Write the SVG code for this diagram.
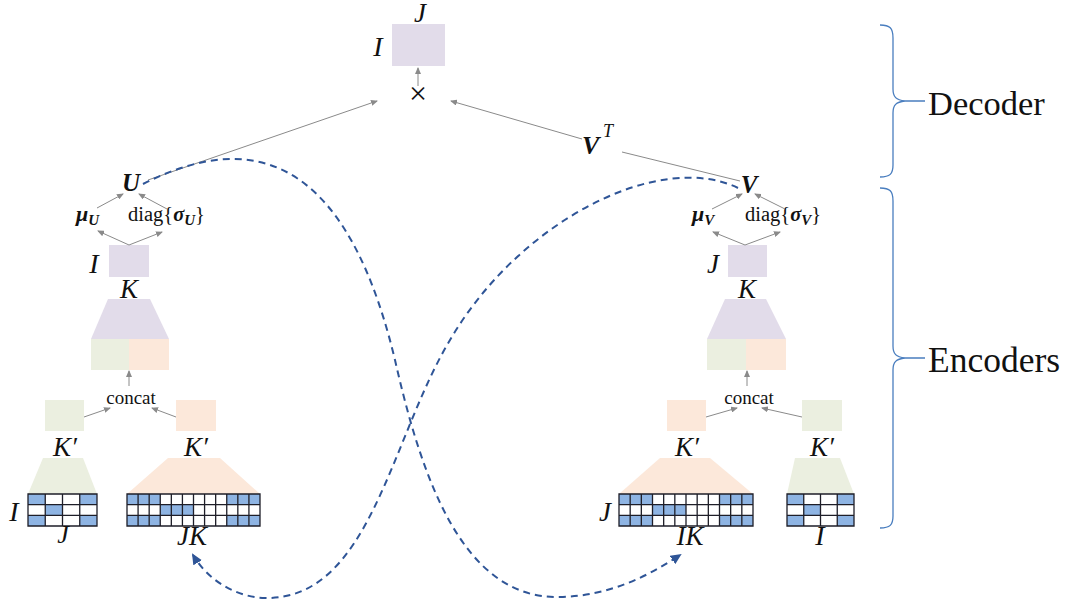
<svg xmlns="http://www.w3.org/2000/svg" width="1070" height="605" viewBox="0 0 1070 605">
  <style>
    .m { font-family: "Liberation Serif", "Times New Roman", serif; font-style: italic; fill: #111; }
    .mb { font-family: "Liberation Serif", "Times New Roman", serif; font-style: italic; font-weight: bold; fill: #111; }
    .rm { font-family: "Liberation Serif", "Times New Roman", serif; fill: #111; }
    .purple { fill: #e2dcea; }
    .green { fill: #ebefe0; }
    .peach { fill: #fce8da; }
    .cellw { fill: #ffffff; }
    .cellb { fill: #8eb4e3; }
    .gridln { fill: none; stroke: #1e1e28; stroke-width: 1.3; }
    .edge { fill: none; stroke: #8a8a8a; stroke-width: 1; marker-end: url(#ah); }
    .plain { fill: none; stroke: #8a8a8a; stroke-width: 1; }
    .dash { fill: none; stroke: #2f5597; stroke-width: 2; stroke-dasharray: 7 5; marker-end: url(#bh); }
    .brace { fill: none; stroke: #4a7ebf; stroke-width: 1.3; }
  </style>
  <defs>
    <marker id="ah" markerUnits="userSpaceOnUse" markerWidth="7" markerHeight="6" refX="6" refY="3" orient="auto">
      <path d="M0,0 L7,3 L0,6 z" fill="#8a8a8a"/>
    </marker>
    <marker id="bh" markerUnits="userSpaceOnUse" markerWidth="11" markerHeight="10" refX="9" refY="5" orient="auto">
      <path d="M0,0 L11,5 L0,10 z" fill="#2f5597"/>
    </marker>
  </defs>

  <rect width="1070" height="605" fill="#ffffff"/>

  <!-- decoder output -->
  <g id="output">
    <rect class="purple" x="392" y="24" width="53" height="42"/>
    <text class="m" x="420" y="22" font-size="27" text-anchor="middle">J</text>
    <text class="m" x="378" y="56" font-size="28" text-anchor="middle">I</text>
  </g>
  <g id="product">
    <text class="rm" x="418" y="104" font-size="32" text-anchor="middle">×</text>
  </g>
  <g id="vt-label">
    <text class="mb" x="582" y="154" font-size="26">V</text>
    <text class="m" x="603" y="137" font-size="18">T</text>
  </g>

  <!-- left encoder (users) -->
  <g id="u-node">
    <text class="mb" x="131" y="191" font-size="25" text-anchor="middle">U</text>
  </g>
  <g id="mu-u">
    <text class="mb" x="76" y="221" font-size="22">μ<tspan font-size="15" dy="4">U</tspan></text>
  </g>
  <g id="sigma-u">
    <text class="rm" x="128" y="221" font-size="20.5">diag{<tspan class="mb">σ</tspan><tspan class="mb" font-size="15" dy="4">U</tspan><tspan dy="-4">}</tspan></text>
  </g>
  <g id="u-latent">
    <rect class="purple" x="109" y="245" width="40" height="32"/>
    <text class="m" x="94" y="273" font-size="28" text-anchor="middle">I</text>
    <text class="m" x="129" y="298" font-size="27" text-anchor="middle">K</text>
  </g>
  <g id="u-merge">
    <polygon class="purple" points="108,299 150,299 169,339 91,339"/>
    <rect class="green" x="91" y="339" width="38" height="31"/>
    <rect class="peach" x="129" y="339" width="40" height="31"/>
  </g>
  <g id="u-concat">
    <text class="rm" x="131" y="404" font-size="19" text-anchor="middle">concat</text>
  </g>
  <g id="u-branch-a">
    <rect class="green" x="45" y="400" width="39" height="31"/>
    <text class="m" x="65" y="456" font-size="27" text-anchor="middle">K′</text>
    <polygon class="green" points="43,458 83,458 97,494 28,494"/>
    <rect class="cellw" x="28" y="494" width="69" height="32"/>
    <rect class="cellb" x="28" y="494" width="17.25" height="10.67"/>
    <rect class="cellb" x="79.75" y="494" width="17.25" height="10.67"/>
    <rect class="cellb" x="45.25" y="504.67" width="17.25" height="10.67"/>
    <rect class="cellb" x="28" y="515.33" width="17.25" height="10.67"/>
    <rect class="cellb" x="79.75" y="515.33" width="17.25" height="10.67"/>
    <path class="gridln" d="M28,494 H97 V526 H28 Z M45.25,494 V526 M62.5,494 V526 M79.75,494 V526 M28,504.67 H97 M28,515.33 H97"/>
    <text class="m" x="14" y="521" font-size="28" text-anchor="middle">I</text>
    <text class="m" x="63" y="543" font-size="26" text-anchor="middle">J</text>
  </g>
  <g id="u-branch-b">
    <rect class="peach" x="176" y="400" width="40" height="31"/>
    <text class="m" x="196" y="456" font-size="27" text-anchor="middle">K′</text>
    <polygon class="peach" points="168,458 220,458 260,494 127,494"/>
    <rect class="cellw" x="127" y="494" width="133" height="32"/>
    <rect class="cellb" x="127" y="494" width="33.25" height="10.67"/>
    <rect class="cellb" x="226.75" y="494" width="33.25" height="10.67"/>
    <rect class="cellb" x="160.25" y="504.67" width="33.25" height="10.67"/>
    <rect class="cellb" x="127" y="515.33" width="33.25" height="10.67"/>
    <rect class="cellb" x="226.75" y="515.33" width="33.25" height="10.67"/>
    <path class="gridln" d="M127,494 H260 V526 H127 Z M138.08,494 V526 M149.17,494 V526 M160.25,494 V526 M171.33,494 V526 M182.42,494 V526 M193.5,494 V526 M204.58,494 V526 M215.67,494 V526 M226.75,494 V526 M237.83,494 V526 M248.92,494 V526 M127,504.67 H260 M127,515.33 H260"/>
    <text class="m" x="192" y="545" font-size="27" text-anchor="middle">JK</text>
  </g>

  <!-- right encoder (items) -->
  <g id="v-node">
    <text class="mb" x="749" y="193" font-size="25" text-anchor="middle">V</text>
  </g>
  <g id="mu-v">
    <text class="mb" x="692" y="221" font-size="22">μ<tspan font-size="15" dy="4">V</tspan></text>
  </g>
  <g id="sigma-v">
    <text class="rm" x="745" y="221" font-size="20.5">diag{<tspan class="mb">σ</tspan><tspan class="mb" font-size="15" dy="4">V</tspan><tspan dy="-4">}</tspan></text>
  </g>
  <g id="v-latent">
    <rect class="purple" x="728" y="245" width="39" height="32"/>
    <text class="m" x="713" y="273" font-size="27" text-anchor="middle">J</text>
    <text class="m" x="747" y="298" font-size="27" text-anchor="middle">K</text>
  </g>
  <g id="v-merge">
    <polygon class="purple" points="725,299 766,299 786,339 707,339"/>
    <rect class="green" x="707" y="339" width="39" height="31"/>
    <rect class="peach" x="746" y="339" width="40" height="31"/>
  </g>
  <g id="v-concat">
    <text class="rm" x="749" y="404" font-size="19" text-anchor="middle">concat</text>
  </g>
  <g id="v-branch-a">
    <rect class="peach" x="667" y="400" width="39" height="31"/>
    <text class="m" x="687" y="456" font-size="27" text-anchor="middle">K′</text>
    <polygon class="peach" points="660,458 710,458 753,494 619,494"/>
    <rect class="cellw" x="619" y="494" width="134" height="32"/>
    <rect class="cellb" x="619" y="494" width="33.5" height="10.67"/>
    <rect class="cellb" x="719.5" y="494" width="33.5" height="10.67"/>
    <rect class="cellb" x="652.5" y="504.67" width="33.5" height="10.67"/>
    <rect class="cellb" x="619" y="515.33" width="33.5" height="10.67"/>
    <rect class="cellb" x="719.5" y="515.33" width="33.5" height="10.67"/>
    <path class="gridln" d="M619,494 H753 V526 H619 Z M630.17,494 V526 M641.33,494 V526 M652.5,494 V526 M663.67,494 V526 M674.83,494 V526 M686,494 V526 M697.17,494 V526 M708.33,494 V526 M719.5,494 V526 M730.67,494 V526 M741.83,494 V526 M619,504.67 H753 M619,515.33 H753"/>
    <text class="m" x="605" y="521" font-size="27" text-anchor="middle">J</text>
    <text class="m" x="690" y="545" font-size="27" text-anchor="middle">IK</text>
  </g>
  <g id="v-branch-b">
    <rect class="green" x="802" y="400" width="40" height="31"/>
    <text class="m" x="822" y="456" font-size="27" text-anchor="middle">K′</text>
    <polygon class="green" points="795,458 840,458 854,494 787,494"/>
    <rect class="cellw" x="787" y="494" width="67" height="32"/>
    <rect class="cellb" x="787" y="494" width="16.75" height="10.67"/>
    <rect class="cellb" x="837.25" y="494" width="16.75" height="10.67"/>
    <rect class="cellb" x="803.75" y="504.67" width="16.75" height="10.67"/>
    <rect class="cellb" x="787" y="515.33" width="16.75" height="10.67"/>
    <rect class="cellb" x="837.25" y="515.33" width="16.75" height="10.67"/>
    <path class="gridln" d="M787,494 H854 V526 H787 Z M803.75,494 V526 M820.5,494 V526 M837.25,494 V526 M787,504.67 H854 M787,515.33 H854"/>
    <text class="m" x="820" y="545" font-size="28" text-anchor="middle">I</text>
  </g>

  <!-- section braces -->
  <g id="decoder-brace">
    <path class="brace" d="M880,25 C890,25 893,28 893,38 L893,89 C893,97 896,100 905,101 C896,102 893,105 893,113 L893,165 C893,174 890,177 880,177 M905,101 H925"/>
    <text class="rm" x="928" y="115" font-size="34.5">Decoder</text>
  </g>
  <g id="encoder-brace">
    <path class="brace" d="M880,188 C890,188 893,191 893,201 L893,346 C893,354 896,357 905,358 C896,359 893,362 893,370 L893,516 C893,525 890,528 880,528 M905,358 H925"/>
    <text class="rm" x="928" y="372" font-size="35.5">Encoders</text>
  </g>

  <!-- connectors -->
  <g id="connectors">
    <path class="edge" d="M418,86 L418,68"/>
    <path class="edge" d="M148,180 L377,101"/>
    <path class="edge" d="M582,139 L451,101"/>
    <path class="plain" d="M622,152 L740,181"/>

    <path class="edge" d="M97,208 L123,194"/>
    <path class="edge" d="M167,209 L139,194"/>
    <path class="edge" d="M129,245 L98,231"/>
    <path class="edge" d="M129,245 L162,232"/>
    <path class="edge" d="M129,386 L129,371"/>
    <path class="edge" d="M84,417 L110,408"/>
    <path class="edge" d="M176,417 L152,408"/>

    <path class="edge" d="M712,209 L742,194"/>
    <path class="edge" d="M785,209 L755,194"/>
    <path class="edge" d="M745,245 L713,232"/>
    <path class="edge" d="M745,245 L780,232"/>
    <path class="edge" d="M747,386 L747,371"/>
    <path class="edge" d="M706,417 L737,408"/>
    <path class="edge" d="M802,417 L762,408"/>

    <path class="dash" d="M143,184 C230,140 340,130 395,360 C420,470 460,600 560,597 C610,596 650,575 680,555"/>
    <path class="dash" d="M738,188 C660,150 520,220 450,340 C390,440 370,600 265,598 C235,597 208,580 193,555"/>
  </g>
</svg>
